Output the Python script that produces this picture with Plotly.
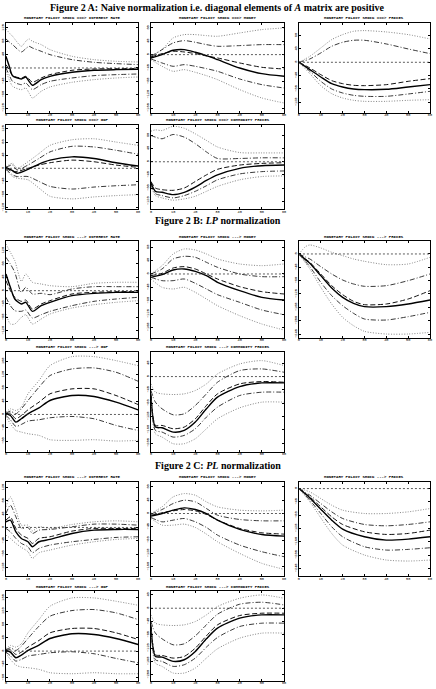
import plotly.graph_objects as go

# ---------------- data (impulse responses, arbitrary units) ----------------
# Panel A
A1_X = [0, 1.5, 3, 7, 9, 10.5, 12, 16, 20, 30, 40, 50, 60]
A1_HI90 = [117, 105, 95, 65, 80, 87, 80, 70, 55, 35, 25, 20, 18]
A1_HI68 = [87, 78, 70, 48, 58, 65, 60, 50, 40, 25, 17, 13, 10]
A1_MEAN = [10, -5, -23, -30, -25, -33, -43, -30, -20, -7, -3, -2, -2]
A1_MED = [35, 5, -23, -33, -27, -40, -52, -35, -25, -13, -7, -5, -4]
A1_LO68 = [0, -22, -40, -50, -45, -55, -65, -50, -40, -30, -23, -20, -18]
A1_LO90 = [-10, -35, -55, -65, -60, -75, -90, -70, -57, -43, -35, -30, -27]

A2_X = [0, 5, 10, 15, 20, 25, 30, 40, 50, 60]
A2_HI90 = [-5, 15, 50, 60, 60, 57, 55, 65, 75, 80]
A2_HI68 = [-5, 15, 35, 42, 37, 30, 25, 27, 30, 30]
A2_MEAN = [-7, 3, 10, 8, 3, -4, -10, -25, -38, -43]
A2_MED = [-10, 0, 13, 15, 7, -3, -15, -40, -57, -65]
A2_LO68 = [-13, -25, -35, -30, -35, -42, -50, -73, -90, -100]
A2_LO90 = [-15, -35, -50, -45, -53, -63, -75, -105, -130, -145]

A3_X = [0, 5, 10, 15, 20, 25, 30, 40, 50, 60]
A3_HI90 = [0, 18, 43, 68, 83, 93, 95, 91, 83, 70]
A3_HI68 = [0, 10, 28, 48, 60, 66, 66, 55, 40, 26]
A3_MEAN = [0, -17, -37, -55, -64, -69, -70, -67, -57, -49]
A3_MED = [0, -22, -44, -64, -74, -80, -82, -81, -74, -67]
A3_LO68 = [0, -27, -57, -80, -92, -99, -102, -102, -95, -87]
A3_LO90 = [0, -34, -70, -94, -107, -114, -117, -117, -114, -112]

A4_X = [0, 3, 5, 10, 15, 20, 30, 40, 50, 60]
A4_HI90 = [5, 15, 0, 20, 45, 70, 87, 90, 80, 70]
A4_HI68 = [3, 10, -5, 10, 30, 50, 67, 65, 55, 43]
A4_MEAN = [0, -10, -10, 0, 10, 17, 25, 20, 10, 3]
A4_MED = [3, -7, -15, -3, 13, 25, 35, 30, 17, 7]
A4_LO68 = [-3, -20, -25, -25, -40, -55, -63, -57, -53, -50]
A4_LO90 = [-5, -25, -30, -35, -60, -85, -93, -87, -83, -80]

A5_X = [0, 2, 5, 10, 15, 20, 25, 30, 40, 50, 60]
A5_HI90 = [93, 97, 95, 108, 102, 85, 65, 45, 28, 27, 27]
A5_HI68 = [80, 75, 70, 83, 75, 55, 30, 10, 10, 12, 12]
A5_MEAN = [-60, -80, -85, -87, -80, -60, -40, -23, -10, -5, -3]
A5_MED = [-65, -90, -93, -100, -93, -77, -57, -40, -20, -12, -10]
A5_LO68 = [-70, -97, -103, -110, -103, -90, -73, -55, -37, -30, -28]
A5_LO90 = [-75, -103, -110, -117, -113, -105, -90, -75, -55, -45, -43]

# Panel B
B1_X = [0, 2, 4, 7, 9, 12, 16, 20, 30, 40, 50, 60]
B1_HI90 = [140, 115, 90, 28, 50, 25, 20, 15, 12, 22, 25, 25]
B1_HI68 = [100, 80, 55, -5, 10, -10, -8, -12, 5, 12, 12, 12]
B1_MEAN = [30, 0, -20, -32, -28, -55, -40, -30, -10, -5, -3, -3]
B1_MED = [50, 10, -25, -40, -35, -62, -45, -35, -15, -8, -5, -5]
B1_LO68 = [-20, -45, -60, -62, -58, -82, -72, -62, -45, -32, -25, -20]
B1_LO90 = [-70, -100, -100, -80, -72, -100, -85, -70, -52, -42, -35, -30]

B2_X = [0, 5, 10, 15, 20, 25, 30, 40, 50, 60]
B2_HI90 = [0, 25, 60, 75, 72, 60, 45, 30, 25, 30]
B2_HI68 = [0, 15, 45, 53, 50, 35, 20, 0, -8, -8]
B2_MEAN = [-5, 2, 18, 22, 15, 0, -15, -38, -53, -60]
B2_MED = [-10, -2, 12, 15, 8, -5, -25, -50, -70, -78]
B2_LO68 = [-10, -20, -20, -15, -28, -45, -62, -85, -108, -122]
B2_LO90 = [-15, -40, -45, -40, -55, -75, -95, -125, -150, -168]

B3_X = [0, 3, 5, 10, 15, 20, 25, 30, 40, 50, 60]
B3_HI90 = [0, 22, 27, 18, 5, -5, -15, -22, -32, -30, -10]
B3_HI68 = [0, -9, -15, -38, -60, -78, -90, -97, -95, -80, -60]
B3_MEAN = [0, -15, -25, -60, -95, -122, -142, -152, -150, -135, -110]
B3_MED = [0, -17, -28, -65, -102, -130, -148, -158, -158, -150, -138]
B3_LO68 = [0, -23, -38, -85, -125, -155, -178, -195, -198, -188, -175]
B3_LO90 = [0, -27, -45, -100, -150, -190, -215, -232, -240, -240, -235]

B4_X = [0, 2, 4.5, 7, 10, 15, 20, 30, 40, 50, 60]
B4_HI90 = [7, 17, 12, 22, 62, 102, 147, 174, 174, 162, 147]
B4_HI68 = [4, 10, 2, 17, 42, 82, 117, 137, 140, 127, 100]
B4_MEAN = [2, 4, -13, -3, 14, 37, 62, 77, 77, 57, 30]
B4_MED = [2, -3, -23, -13, 2, 20, 42, 57, 54, 37, 14]
B4_LO68 = [-3, -16, -36, -30, -20, -16, -10, -6, -13, -33, -48]
B4_LO90 = [-6, -28, -48, -53, -58, -63, -76, -78, -76, -80, -78]

B5_X = [0, 2, 5, 10, 15, 20, 25, 30, 40, 50, 60]
B5_HI90 = [-22, -47, -52, -54, -52, -42, -22, 8, 38, 48, 33]
B5_HI68 = [-42, -77, -97, -115, -112, -87, -52, -17, 18, 23, 13]
B5_MEAN = [-52, -147, -147, -157, -152, -127, -87, -52, -22, -15, -17]
B5_MED = [-57, -152, -154, -167, -162, -137, -97, -62, -30, -19, -19]
B5_LO68 = [-62, -162, -167, -182, -177, -157, -122, -92, -57, -47, -47]
B5_LO90 = [-72, -172, -182, -202, -202, -187, -157, -127, -94, -77, -77]

# Panel C
C1_X = [0, 2, 4.5, 7, 10, 12, 15, 20, 30, 40, 50, 60]
C1_HI90 = [62, 92, 52, 7, 7, -10, 2, -3, 9, 17, 20, 17]
C1_HI68 = [42, 67, 32, -3, 0, -18, -8, -6, 2, 10, 10, 7]
C1_MEAN = [22, 32, -3, -23, -33, -48, -33, -28, -11, -3, -3, -3]
C1_MED = [17, 22, -13, -33, -43, -58, -43, -36, -18, -8, -6, -6]
C1_LO68 = [-3, -13, -33, -48, -58, -76, -63, -53, -43, -36, -30, -28]
C1_LO90 = [-23, -33, -48, -60, -73, -93, -76, -68, -53, -43, -36, -33]

C2_X = [0, 5, 10, 15, 20, 25, 30, 40, 50, 60]
C2_HI90 = [0, 20, 50, 60, 55, 35, 20, 10, 8, 10]
C2_HI68 = [-2, 12, 30, 40, 35, 15, -5, -18, -22, -22]
C2_MEAN = [-5, 2, 8, 12, 8, -3, -20, -45, -58, -62]
C2_MED = [-8, 0, 10, 17, 12, 0, -20, -48, -63, -68]
C2_LO68 = [-12, -25, -20, -15, -25, -42, -65, -95, -115, -130]
C2_LO90 = [-15, -35, -35, -32, -42, -62, -85, -120, -150, -168]

C3_X = [0, 5, 10, 15, 20, 30, 40, 50, 60]
C3_HI90 = [0, -10, -30, -50, -65, -75, -75, -70, -60]
C3_HI68 = [0, -20, -45, -70, -90, -108, -112, -108, -100]
C3_MEAN = [0, -25, -55, -85, -108, -130, -138, -135, -125]
C3_MED = [0, -28, -62, -95, -122, -145, -155, -152, -145]
C3_LO68 = [0, -35, -75, -115, -145, -175, -185, -183, -178]
C3_LO90 = [0, -40, -88, -135, -170, -200, -215, -218, -215]

C4_X = [0, 2, 4.5, 7, 10, 15, 20, 30, 40, 50, 60]
C4_HI90 = [7, 17, 12, 22, 55, 95, 135, 160, 160, 150, 138]
C4_HI68 = [4, 10, 2, 15, 38, 75, 105, 122, 125, 115, 95]
C4_MEAN = [2, 4, -10, -3, 12, 32, 55, 68, 68, 55, 35]
C4_MED = [2, -3, -20, -12, 2, 18, 38, 52, 50, 38, 20]
C4_LO68 = [-3, -14, -30, -25, -15, -10, -5, -2, -8, -22, -35]
C4_LO90 = [-6, -25, -42, -48, -50, -55, -65, -68, -65, -68, -68]

C5_X = [0, 2, 5, 10, 15, 20, 25, 30, 40, 50, 60]
C5_HI90 = [-20, -45, -50, -52, -50, -40, -20, 5, 30, 40, 30]
C5_HI68 = [-40, -75, -92, -110, -107, -83, -50, -18, 12, 18, 10]
C5_MEAN = [-50, -140, -142, -150, -145, -120, -83, -50, -22, -15, -15]
C5_MED = [-55, -145, -147, -160, -155, -130, -92, -60, -30, -20, -20]
C5_LO68 = [-60, -155, -160, -175, -170, -150, -117, -88, -55, -45, -45]
C5_LO90 = [-70, -165, -175, -195, -195, -180, -150, -122, -90, -75, -75]

X_TICKS = [0, 10, 20, 30, 40, 50, 60]

TITLE_A = "<b>Figure 2 A: Naive normalization i.e. diagonal elements of <i>A</i> matrix are positive</b>"
TITLE_B = "<b>Figure 2 B: <i>LP</i> normalization</b>"
TITLE_C = "<b>Figure 2 C: <i>PL</i> normalization</b>"

VARS = ["INTEREST RATE", "MONEY", "PRICES", "GDP", "COMMODITY PRICES"]

PLOTS = [
    ("A", VARS[0], A1_X, A1_HI90, A1_HI68, A1_MEAN, A1_MED, A1_LO68, A1_LO90),
    ("A", VARS[1], A2_X, A2_HI90, A2_HI68, A2_MEAN, A2_MED, A2_LO68, A2_LO90),
    ("A", VARS[2], A3_X, A3_HI90, A3_HI68, A3_MEAN, A3_MED, A3_LO68, A3_LO90),
    ("A", VARS[3], A4_X, A4_HI90, A4_HI68, A4_MEAN, A4_MED, A4_LO68, A4_LO90),
    ("A", VARS[4], A5_X, A5_HI90, A5_HI68, A5_MEAN, A5_MED, A5_LO68, A5_LO90),
    ("B", VARS[0], B1_X, B1_HI90, B1_HI68, B1_MEAN, B1_MED, B1_LO68, B1_LO90),
    ("B", VARS[1], B2_X, B2_HI90, B2_HI68, B2_MEAN, B2_MED, B2_LO68, B2_LO90),
    ("B", VARS[2], B3_X, B3_HI90, B3_HI68, B3_MEAN, B3_MED, B3_LO68, B3_LO90),
    ("B", VARS[3], B4_X, B4_HI90, B4_HI68, B4_MEAN, B4_MED, B4_LO68, B4_LO90),
    ("B", VARS[4], B5_X, B5_HI90, B5_HI68, B5_MEAN, B5_MED, B5_LO68, B5_LO90),
    ("C", VARS[0], C1_X, C1_HI90, C1_HI68, C1_MEAN, C1_MED, C1_LO68, C1_LO90),
    ("C", VARS[1], C2_X, C2_HI90, C2_HI68, C2_MEAN, C2_MED, C2_LO68, C2_LO90),
    ("C", VARS[2], C3_X, C3_HI90, C3_HI68, C3_MEAN, C3_MED, C3_LO68, C3_LO90),
    ("C", VARS[3], C4_X, C4_HI90, C4_HI68, C4_MEAN, C4_MED, C4_LO68, C4_LO90),
    ("C", VARS[4], C5_X, C5_HI90, C5_HI68, C5_MEAN, C5_MED, C5_LO68, C5_LO90),
]

# ---------------- layout (pixel rectangles, y ranges) ----------------
W, H = 436, 689
COLS = [(5, 138), (151, 285), (300, 432)]
ROWS = {"A": [(23, 113), (125, 210)], "B": [(242, 339), (353, 453)], "C": [(483, 578), (593, 683)]}
YRANGES = [
    (-134, 135), (-174, 95), (-151, 118), (-125, 133), (-145, 113),
    (-142, 148), (-192, 98), (-252, 38), (-112, 188), (-226, 74),
    (-147, 138), (-189, 96), (-264, 21), (-90, 180), (-219, 51),
]
SECTION_TITLES = [(TITLE_A, 8), (TITLE_B, 221), (TITLE_C, 467)]

STYLES = [
    dict(color="#777777", width=0.9, dash="1px,1.6px"),           # 90% upper
    dict(color="#222222", width=0.9, dash="5px,2px,1px,2px"),     # 68% upper
    dict(color="#111111", width=1.0, dash="5px,2.5px"),           # mean
    dict(color="#000000", width=1.4, dash="solid"),               # median
    dict(color="#222222", width=0.9, dash="5px,2px,1px,2px"),     # 68% lower
    dict(color="#777777", width=0.9, dash="1px,1.6px"),           # 90% lower
]

fig = go.Figure()
annotations = []
shapes = []
layout_axes = {}

for i, (sec, var, xs, *series) in enumerate(PLOTS):
    k = i % 5
    row, col = (0, k) if k < 3 else (1, k - 3)
    x0, x1 = COLS[col]
    y0, y1 = ROWS[sec][row]
    n = i + 1
    xa = "x" if n == 1 else f"x{n}"
    ya = "y" if n == 1 else f"y{n}"
    for s, st in zip(series, STYLES):
        fig.add_trace(go.Scatter(x=xs, y=s, mode="lines", xaxis=xa, yaxis=ya,
                                 line=dict(shape="spline", smoothing=0.7, **st),
                                 hoverinfo="skip", showlegend=False))
    # zero line
    shapes.append(dict(type="line", xref=xa, yref=ya, x0=0, x1=60, y0=0, y1=0,
                       line=dict(color="#333333", width=0.8, dash="2px,2px")))
    common = dict(showline=True, linecolor="black", linewidth=1, mirror="ticks",
                  ticks="inside", ticklen=2, tickwidth=0.6, tickcolor="black",
                  showgrid=False, zeroline=False,
                  tickfont=dict(size=3.6, family="Liberation Mono", color="black"))
    layout_axes["xaxis" if n == 1 else f"xaxis{n}"] = dict(
        domain=[x0 / W, x1 / W], range=[0, 60], tickvals=X_TICKS,
        ticklabelstandoff=-2, anchor=ya, **common)
    yr = YRANGES[i]
    layout_axes["yaxis" if n == 1 else f"yaxis{n}"] = dict(
        domain=[1 - y1 / H, 1 - y0 / H], range=list(yr), dtick=40, tick0=0,
        tickangle=-90, anchor=xa, **common)
    arrow = "===>" if sec == "A" else "--->"
    annotations.append(dict(text=f"<b>MONETARY POLICY SHOCK {arrow} {var}</b>",
                            x=(x0 + x1) / 2 / W, y=1 - (y0 - 0.5) / H,
                            xref="paper", yref="paper", xanchor="center", yanchor="bottom",
                            showarrow=False,
                            font=dict(size=4, family="Liberation Mono", color="black")))

for text, ypx in SECTION_TITLES:
    annotations.append(dict(text=text, x=0.5, y=1 - ypx / H, xref="paper", yref="paper",
                            xanchor="center", yanchor="middle", showarrow=False,
                            font=dict(size=10, family="Liberation Serif", color="black")))

fig.update_layout(width=W, height=H, margin=dict(l=0, r=0, t=0, b=0),
                  paper_bgcolor="white", plot_bgcolor="white", showlegend=False,
                  annotations=annotations, shapes=shapes, **layout_axes)

fig.write_html("out.html")
